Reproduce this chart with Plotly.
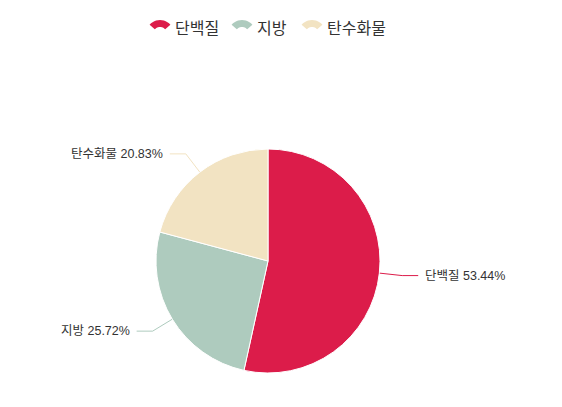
import math
import plotly.graph_objects as go

labels = ["단백질", "지방", "탄수화물"]
values = [53.44, 25.72, 20.83]
colors = ["#dc1c4a", "#aecbbe", "#f2e3c2"]

W, H = 562, 407
cx, cy, R = 268, 261, 112
FONT = "Arial, 'Noto Sans CJK KR', sans-serif"

fig = go.Figure()

fig.add_trace(go.Pie(
    labels=labels, values=values, sort=False, direction="clockwise", rotation=0,
    marker=dict(colors=colors, line=dict(color="white", width=1)),
    textinfo="none", hoverinfo="label+percent", showlegend=False,
    domain=dict(x=[(cx - R) / W, (cx + R) / W], y=[(H - cy - R) / H, (H - cy + R) / H]),
))

# leader lines + outside labels (echarts-like)
len1, len2 = 23, 16
total = sum(values)
acc = 0
for lab, v, col in zip(labels, values, colors):
    mid = (acc + v / 2) / total * 2 * math.pi
    acc += v
    sx, sy = math.sin(mid), -math.cos(mid)
    x0, y0 = cx + R * sx, cy + R * sy
    x1, y1 = cx + (R + len1) * sx, cy + (R + len1) * sy
    side = 1 if sx >= 0 else -1
    x2 = x1 + side * len2
    fig.add_trace(go.Scatter(x=[x0, x1, x2], y=[y0, y1, y1], mode="lines",
                             line=dict(color=col, width=1), showlegend=False, hoverinfo="skip"))
    fig.add_annotation(x=x2 + side * 5, y=y1, text=f"{lab} {v:.2f}%", showarrow=False,
                       xanchor="left" if side > 0 else "right", yanchor="middle",
                       font=dict(size=12.5, color="#333333"))


# legend drawn by hand so the icons can be little fans
def fan_path(xc, yc, ro=14, ri=7, span=48):
    a = [math.radians(-span + 2 * span * i / 12) for i in range(13)]
    oy = yc + ro - 4
    pts = [(xc + ro * math.sin(t), oy - ro * math.cos(t)) for t in a]
    pts += [(xc + ri * math.sin(t), oy - ri * math.cos(t)) for t in reversed(a)]
    return "M " + " L ".join(f"{x:.2f},{y:.2f}" for x, y in pts) + " Z"


legend_x = [160, 242, 312]
legend_y = 24
for lab, col, lx in zip(labels, colors, legend_x):
    fig.add_shape(type="path", path=fan_path(lx, legend_y), xref="x", yref="y",
                  fillcolor=col, line=dict(width=0))
    fig.add_annotation(x=lx + 13, y=legend_y + 4, text=lab, showarrow=False,
                       xanchor="left", yanchor="middle",
                       font=dict(size=16, color="#333333"))

fig.update_layout(
    width=W, height=H, margin=dict(l=0, r=0, t=0, b=0),
    paper_bgcolor="white", plot_bgcolor="white", showlegend=False,
    font=dict(family=FONT, color="#333333"),
    xaxis=dict(range=[0, W], visible=False, fixedrange=True),
    yaxis=dict(range=[H, 0], visible=False, fixedrange=True),
)

# page body has an 8px default margin; drop it so the figure sits at 0,0
fig.write_html("out.html", config={"displayModeBar": False},
               post_script="document.body.style.margin='0';")
